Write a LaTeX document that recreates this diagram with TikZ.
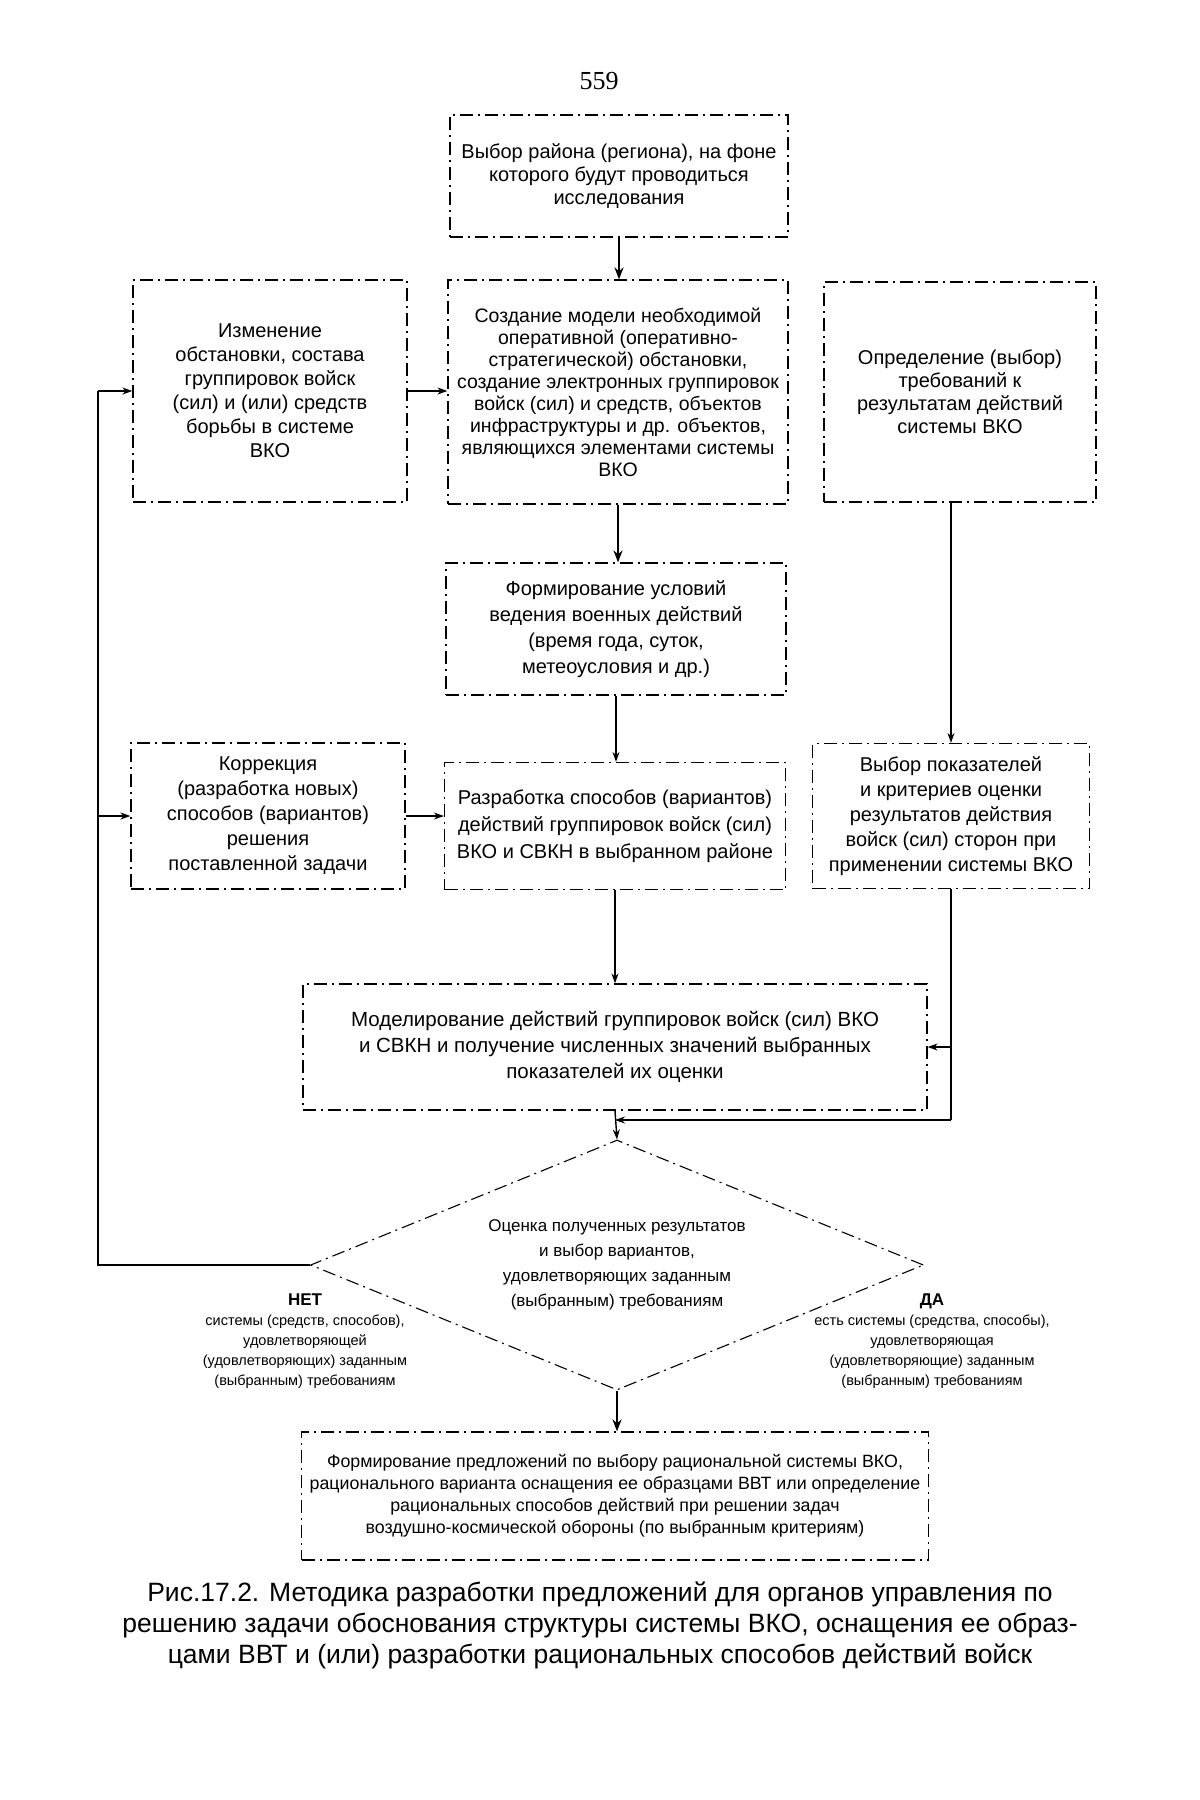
\documentclass[tikz,border=0pt]{standalone}
\usepackage{fontspec}
\setmainfont{Liberation Sans}
\newfontfamily\numfont{Liberation Serif}
\usetikzlibrary{shapes.geometric,arrows.meta,calc}
\begin{document}
\begin{tikzpicture}[x=1pt,y=-1pt,
  every node/.style={inner sep=0pt},
  box/.style={draw, line width=1.2pt, dash pattern=on 13pt off 5pt on 2pt off 5pt, rectangle, align=center, font=\fontsize{20}{23}\selectfont},
  conn/.style={line width=1.4pt, -{Stealth[length=10pt,width=7pt]}},
  thickconn/.style={line width=2.8pt, -{Stealth[length=12pt,width=9pt]}},
  plain/.style={line width=1.4pt},
  lab/.style={align=center, font=\fontsize{14.5}{20}\selectfont},
]
\useasboundingbox (0,0) rectangle (1200,1800);

\node[font=\numfont\fontsize{26}{30}\selectfont] (pg) at (599,81) {559};

\node[box, minimum width=338pt, minimum height=122pt] (b1) at (619,176)
 {Выбор района (региона), на фоне\\которого будут проводиться\\исследования};

\node[box, minimum width=340pt, minimum height=224pt, font=\fontsize{19.5}{22}\selectfont] (b2) at (618,392)
 {Создание модели необходимой\\оперативной (оперативно-\\стратегической) обстановки,\\создание электронных группировок\\войск (сил) и средств, объектов\\инфраструктуры и др. объектов,\\являющихся элементами системы\\ВКО};

\node[box, minimum width=274pt, minimum height=222pt, font=\fontsize{20}{24}\selectfont] (bL) at (270,391)
 {Изменение\\обстановки, состава\\группировок войск\\(сил) и (или) средств\\борьбы в системе\\ВКО};

\node[box, minimum width=272pt, minimum height=220pt] (bR) at (960,392)
 {Определение (выбор)\\требований к\\результатам действий\\системы ВКО};

\node[box, minimum width=340pt, minimum height=132pt, font=\fontsize{20}{26}\selectfont] (bF) at (616,629)
 {Формирование условий\\ведения военных действий\\(время года, суток,\\метеоусловия и др.)};

\node[box, minimum width=274pt, minimum height=146pt, font=\fontsize{20}{25}\selectfont] (bK) at (268,816)
 {Коррекция\\(разработка новых)\\способов (вариантов)\\решения\\поставленной задачи};

\node[box, minimum width=341pt, minimum height=127pt, font=\fontsize{20}{27}\selectfont] (bD) at (615,826)
 {Разработка способов (вариантов)\\действий группировок войск (сил)\\ВКО и СВКН в выбранном районе};

\node[box, minimum width=277pt, minimum height=145pt, font=\fontsize{20}{25}\selectfont] (bV) at (951,816)
 {Выбор показателей\\и критериев оценки\\результатов действия\\войск (сил) сторон при\\применении системы ВКО};

\node[box, minimum width=624pt, minimum height=126pt, font=\fontsize{20.5}{26}\selectfont] (bM) at (615,1047)
 {Моделирование действий группировок войск (сил) ВКО\\и СВКН и получение численных значений выбранных\\показателей их оценки};

\node[draw, diamond, line width=1.1pt, dash pattern=on 13pt off 5pt on 2pt off 5pt, shape aspect=2.45, minimum width=613pt, minimum height=250pt, align=center, font=\fontsize{17}{25}\selectfont] (dm) at (617,1265)
 {Оценка полученных результатов\\и выбор вариантов,\\удовлетворяющих заданным\\(выбранным) требованиям};

\node[lab, anchor=north] (no) at (305,1294)
 {{\fontsize{17}{21}\selectfont\bfseries НЕТ}\\системы (средств, способов),\\удовлетворяющей\\(удовлетворяющих) заданным\\(выбранным) требованиям};

\node[lab, anchor=north] (yes) at (932,1294)
 {{\fontsize{17}{21}\selectfont\bfseries ДА}\\есть системы (средства, способы),\\удовлетворяющая\\(удовлетворяющие) заданным\\(выбранным) требованиям};

\node[box, minimum width=627pt, minimum height=128pt, font=\fontsize{17.8}{22}\selectfont] (bB) at (615,1496)
 {Формирование предложений по выбору рациональной системы ВКО,\\рационального варианта оснащения ее образцами ВВТ или определение\\рациональных способов действий при решении задач\\воздушно-космической обороны (по выбранным критериям)};

\node[align=center, font=\fontsize{26.5}{31}\selectfont] (cap) at (600,1625)
 {Рис.17.2. Методика разработки предложений для органов управления по\\решению задачи обоснования структуры системы ВКО, оснащения ее образ-\\цами ВВТ и (или) разработки рациональных способов действий войск};

% connectors
\draw[thickconn] (b1.south) -- (b1.south |- b2.north);
\draw[conn] (bL.east) -- (bL.east -| b2.west);
\draw[thickconn] (b2.south) -- (b2.south |- bF.north);
\draw[conn] (bF.south) -- (bF.south |- bD.north);
\draw[conn] (bK.east) -- (bK.east -| bD.west);
\draw[conn] (bR.south -| bV.north) -- (bV.north);
\draw[conn] (bD.south) -- (bD.south |- bM.north);
\coordinate (jy) at (0,1120);
\draw[plain] (bV.south) -- (bV.south |- jy);
\draw[conn] (bV.south |- jy) -- (bM.south |- jy);
\draw[conn] (bV.south |- bM.east) -- (bM.east);
\draw[conn] (bM.south) -- (dm.north);
\coordinate (fl) at (98,0);
\draw[line width=2.6pt] (dm.west) -- (dm.west -| fl) -- (fl |- bL.west);
\draw[conn, line width=2pt] (fl |- bL.west) -- (bL.west);
\draw[conn, line width=2pt] (fl |- bK.west) -- (bK.west);
\draw[thickconn] (dm.south) -- (dm.south |- bB.north);
\end{tikzpicture}
\end{document}
